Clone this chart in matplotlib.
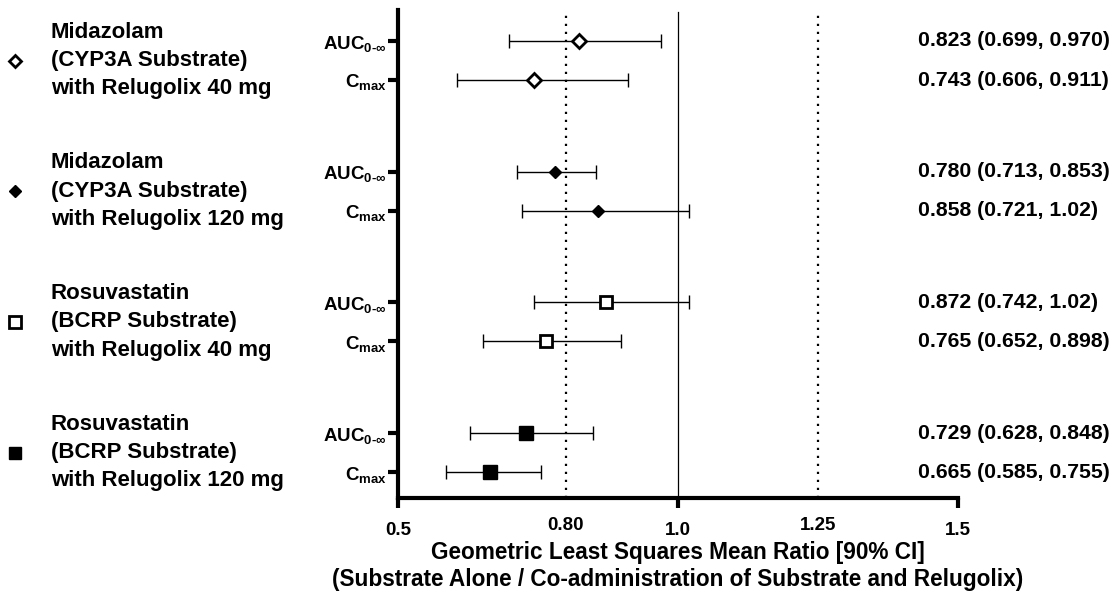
import matplotlib
matplotlib.use("Agg")
import matplotlib.pyplot as plt
from matplotlib.transforms import blended_transform_factory

plt.rcParams['font.family'] = ['Liberation Sans', 'DejaVu Sans']
plt.rcParams['font.weight'] = 'bold'
plt.rcParams['mathtext.fontset'] = 'custom'
plt.rcParams['mathtext.rm'] = 'Liberation Sans'
plt.rcParams['mathtext.bf'] = 'Liberation Sans:bold'
plt.rcParams['mathtext.it'] = 'Liberation Sans:italic'

# ---- data ----
groups = ["Midazolam\n(CYP3A Substrate)\nwith Relugolix 40 mg",
          "Midazolam\n(CYP3A Substrate)\nwith Relugolix 120 mg",
          "Rosuvastatin\n(BCRP Substrate)\nwith Relugolix 40 mg",
          "Rosuvastatin\n(BCRP Substrate)\nwith Relugolix 120 mg"]
params = ["AUC", "Cmax"]
ratio = [[0.823, 0.743], [0.780, 0.858], [0.872, 0.765], [0.729, 0.665]]
lower = [[0.699, 0.606], [0.713, 0.721], [0.742, 0.652], [0.628, 0.585]]
upper = [[0.970, 0.911], [0.853, 1.02], [1.02, 0.898], [0.848, 0.755]]
value_labels = [["0.823 (0.699, 0.970)", "0.743 (0.606, 0.911)"],
                ["0.780 (0.713, 0.853)", "0.858 (0.721, 1.02)"],
                ["0.872 (0.742, 1.02)", "0.765 (0.652, 0.898)"],
                ["0.729 (0.628, 0.848)", "0.665 (0.585, 0.755)"]]
xticks = [0.5, 0.80, 1.0, 1.25, 1.5]
xticklabels = ["0.5", "0.80", "1.0", "1.25", "1.5"]
ref_lines = [0.80, 1.0, 1.25]

# ---- style ----
markers = ['D', 'D', 's', 's']
msizes = [7.5, 6.5, 9, 10]
mews = [2.0, 1.0, 2.0, 1.0]
leg_ms = [6.3, 6.0, 8.0, 9.0]
filled = [False, True, False, True]
group_gap = 130.7
row_offsets = [31, 70]

W, H = 1117, 592
fig = plt.figure(figsize=(W / 100, H / 100), dpi=100)
ax = fig.add_axes([398 / W, 1 - 498 / H, 560 / W, 488 / H])
ax.set_xlim(0.5, 1.5)
ax.set_ylim(488, 0)

ytick_pos = []
ytick_lab = []
for g in range(len(groups)):
    for r in range(2):
        y = g * group_gap + row_offsets[r]
        ytick_pos.append(y)
        ytick_lab.append(r'$\mathbf{AUC}_{\mathrm{0\text{-}\infty}}$' if r == 0 else r'$\mathbf{C}_{\mathrm{max}}$')
        ax.errorbar(ratio[g][r], y,
                    xerr=[[ratio[g][r] - lower[g][r]], [upper[g][r] - ratio[g][r]]],
                    fmt='none', ecolor='black', elinewidth=1.0, capsize=5, capthick=1.0, zorder=3)
        ax.plot(ratio[g][r], y, marker=markers[g], ms=msizes[g],
                mfc='black' if filled[g] else 'white', mec='black', mew=mews[g],
                linestyle='none', zorder=4)

# reference lines
for xv in ref_lines:
    if xv == 1.0:
        ax.axvline(xv, ymin=0, ymax=0.996, color='black', lw=0.9, zorder=1)
    else:
        ax.axvline(xv, ymin=0, ymax=0.99, color='black', lw=1.6, ls=(0, (1, 2.6)), zorder=1)

ax.spines['top'].set_visible(False)
ax.spines['right'].set_visible(False)
ax.spines['left'].set_linewidth(3)
ax.spines['bottom'].set_linewidth(3)

ax.set_yticks(ytick_pos)
ax.set_yticklabels(ytick_lab, fontsize=13.5)
ax.tick_params(axis='y', length=7, width=3, pad=1)

ax.set_xticks(xticks)
ax.set_xticklabels(xticklabels, fontsize=13.5, fontweight='bold')
ax.tick_params(axis='x', length=7, width=3, pad=10)
for t, lab in zip(ax.xaxis.get_major_ticks(), xticklabels):
    if lab in ("0.80", "1.25"):
        t.tick1line.set_visible(False)
        t.set_pad(7)

ax.set_xlabel("Geometric Least Squares Mean Ratio [90% CI]\n(Substrate Alone / Co-administration of Substrate and Relugolix)",
              fontsize=16.3, fontweight='bold', labelpad=2, linespacing=1.18)

trans = blended_transform_factory(fig.transFigure, ax.transData)
for g in range(len(groups)):
    yc = g * group_gap + (row_offsets[0] + row_offsets[1]) / 2
    ax.plot([15 / W], [yc], transform=trans, marker=markers[g],
            ms=leg_ms[g], mfc='black' if filled[g] else 'white', mec='black', mew=2 if not filled[g] else 1,
            clip_on=False, linestyle='none')
    fig.text(51 / W, yc, groups[g], transform=trans, fontsize=16, fontweight='bold',
             va='center', ha='left', linespacing=1.45)
    for r in range(2):
        y = g * group_gap + row_offsets[r]
        fig.text(918 / W, y, value_labels[g][r], transform=trans, fontsize=15.3,
                 fontweight='bold', va='center', ha='left')

fig.savefig("out.png", dpi=100)
